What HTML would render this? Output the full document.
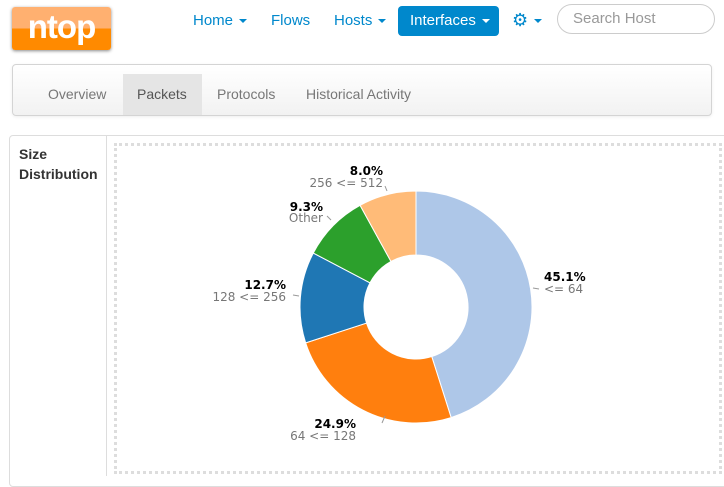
<!DOCTYPE html>
<html><head><style>
body{margin:0;width:724px;height:476px;overflow:hidden;background:#fff;font-family:"Liberation Sans",sans-serif;position:relative}
.a{position:absolute}
.nav{color:#0088cc;font-size:15px;top:12px}
.car{display:inline-block;border-left:4px solid transparent;border-right:4px solid transparent;border-top:4px solid currentColor;vertical-align:middle;margin-left:6px}
</style></head><body>
<div class="a" style="left:12px;top:7px;width:99px;height:43px;border-radius:3px;background:linear-gradient(#ffb070 0,#ffb070 50%,#ff8a00 50%);box-shadow:0 1px 3px #888;color:#fff;font-weight:bold;font-size:33px;text-align:center;line-height:40px;letter-spacing:-1px">ntop</div>
<div class="a nav" style="left:193px">Home<span class="car"></span></div>
<div class="a nav" style="left:271px">Flows</div>
<div class="a nav" style="left:334px">Hosts<span class="car"></span></div>
<div class="a" style="left:398px;top:6px;width:101px;height:30px;background:#0088cc;border-radius:4px;color:#fff;font-size:15px;line-height:30px;text-indent:12px">Interfaces<span class="car"></span></div>
<div class="a nav" style="left:512px;top:10px;font-size:18px">⚙<span class="car"></span></div>
<div class="a" style="left:557px;top:4px;width:156px;height:28px;border:1px solid #ccc;border-radius:15px;color:#999;font-size:15px;line-height:28px;text-indent:15px">Search Host</div>
<div class="a" style="left:12px;top:64px;width:698px;height:50px;border:1px solid #d4d4d4;border-radius:4px;background:linear-gradient(#fff,#f2f2f2);box-shadow:0 1px 3px rgba(0,0,0,.07)"></div>
<div class="a" style="left:123px;top:74px;width:79px;height:41px;background:#e5e5e5"></div>
<div class="a" style="top:86px;left:48px;font-size:14px;color:#777">Overview</div>
<div class="a" style="top:86px;left:137px;font-size:14px;color:#555">Packets</div>
<div class="a" style="top:86px;left:217px;font-size:14px;color:#777">Protocols</div>
<div class="a" style="top:86px;left:306px;font-size:14px;color:#777">Historical Activity</div>
<div class="a" style="left:9px;top:135px;width:730px;height:350px;border:1px solid #ddd;border-radius:4px"></div>
<div class="a" style="left:106px;top:136px;width:1px;height:340px;background:#ddd"></div>
<div class="a" style="left:19px;top:144px;font-size:14px;font-weight:bold;color:#333;line-height:20px">Size<br>Distribution</div>
<div class="a" style="left:114px;top:143px;width:602px;height:325px;border:3px dotted #ddd"></div>
<svg class="a" style="left:0;top:0" width="724" height="476" font-family="DejaVu Sans,sans-serif" font-size="12">
<g stroke="#fff" stroke-width="1">
<path d="M416,191A116,116 0 0 1 451.15,417.55L431.76,356.56A52,52 0 0 0 416,255Z" fill="#aec7e8"/>
<path d="M451.15,417.55A116,116 0 0 1 305.67,342.85L366.54,323.07A52,52 0 0 0 431.76,356.56Z" fill="#ff7f0e"/>
<path d="M305.67,342.85A116,116 0 0 1 313.3,253.05L369.96,282.81A52,52 0 0 0 366.54,323.07Z" fill="#1f77b4"/>
<path d="M313.3,253.05A116,116 0 0 1 360.1,205.35L390.95,261.43A52,52 0 0 0 369.96,282.81Z" fill="#2ca02c"/>
<path d="M360.1,205.35A116,116 0 0 1 416,191L416,255A52,52 0 0 0 390.95,261.43Z" fill="#ffbb78"/>
</g>
<g stroke="#999" stroke-width="1" fill="none">
<path d="M533,288L539,289"/><path d="M385,416L382,423"/><path d="M299,296L293,295"/><path d="M331,220L327,216"/><path d="M385,186L387,191"/>
</g>
<g font-weight="bold" fill="#000">
<text x="544" y="281">45.1%</text>
<text x="356" y="428" text-anchor="end">24.9%</text>
<text x="286" y="289" text-anchor="end">12.7%</text>
<text x="323" y="211" text-anchor="end">9.3%</text>
<text x="383" y="175" text-anchor="end">8.0%</text>
</g>
<g fill="#777">
<text x="544" y="293">&lt;= 64</text>
<text x="356" y="440" text-anchor="end">64 &lt;= 128</text>
<text x="286" y="301" text-anchor="end">128 &lt;= 256</text>
<text x="323" y="222" text-anchor="end">Other</text>
<text x="383" y="187" text-anchor="end">256 &lt;= 512</text>
</g>
</svg>
</body></html>
